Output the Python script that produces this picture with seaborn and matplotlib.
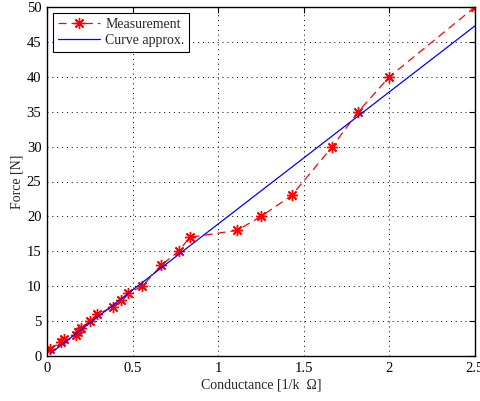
import numpy as np
import seaborn as sns
import matplotlib
matplotlib.use("Agg")
import matplotlib.pyplot as plt

# measured points: conductance [1/kOhm] vs force [N]
conductance = [0.017, 0.083, 0.1, 0.167, 0.182, 0.2, 0.25, 0.294, 0.385, 0.435,
               0.476, 0.556, 0.667, 0.769, 0.833, 1.111, 1.25, 1.429, 1.667,
               1.818, 2.0, 2.5]
force = [1, 2, 2.5, 3, 3.5, 4, 5, 6, 7, 8, 9, 10, 13, 15, 17, 18, 20, 23, 30,
         35, 40, 50]

# linear approximation
curve_x = [0.017, 2.5]
curve_y = [0.32, 47.3]

xticks = [0, 0.5, 1, 1.5, 2, 2.5]
xtick_labels = ["0", "0.5", "1", "1.5", "2", "2.5"]
yticks = list(range(0, 51, 5))

sns.set_style("white")
plt.rcParams['font.family'] = ['Liberation Serif', 'DejaVu Serif']

fig = plt.figure(figsize=(4.81, 4.01), dpi=100)
# axes box: left 47px, right 475px, bottom 356px, top 7px
ax = fig.add_axes([47/481, (401-356)/401, 428/481, 349/401])

sns.lineplot(x=conductance, y=force, ax=ax, color='red', linestyle=(0, (6.5, 4)),
             linewidth=0.9, marker=(8, 2, 0), markersize=8, markeredgewidth=1.0,
             markeredgecolor='red', markerfacecolor='red', label='Measurement',
             sort=False)
sns.lineplot(x=curve_x, y=curve_y, ax=ax, color='blue', linewidth=0.9,
             label='Curve approx.', sort=False)

ax.set_xlim(0, 2.5)
ax.set_ylim(0, 50)
ax.set_xticks(xticks)
ax.set_xticklabels(xtick_labels)
ax.set_yticks(yticks)
ax.tick_params(direction='in', top=True, right=True, labelsize=10.5, length=4,
               width=0.8, colors='black', pad=4)
ax.grid(True, color='black', linestyle=(0, (1, 4)), linewidth=0.7)
for s in ax.spines.values():
    s.set_visible(True)
    s.set_color('black')
    s.set_linewidth(1.0)

ax.set_xlabel("Conductance [1/k  \u03a9]", fontsize=10, labelpad=3)
ax.set_ylabel("Force [N]", fontsize=10, labelpad=2)

leg = ax.legend(loc='upper left', fontsize=10, frameon=True, fancybox=False,
                edgecolor='black', framealpha=1, borderpad=0.35,
                handlelength=3.0, handletextpad=0.4, labelspacing=0.2,
                borderaxespad=0.45)
leg.get_frame().set_linewidth(0.8)

fig.savefig("out.png", dpi=100)
